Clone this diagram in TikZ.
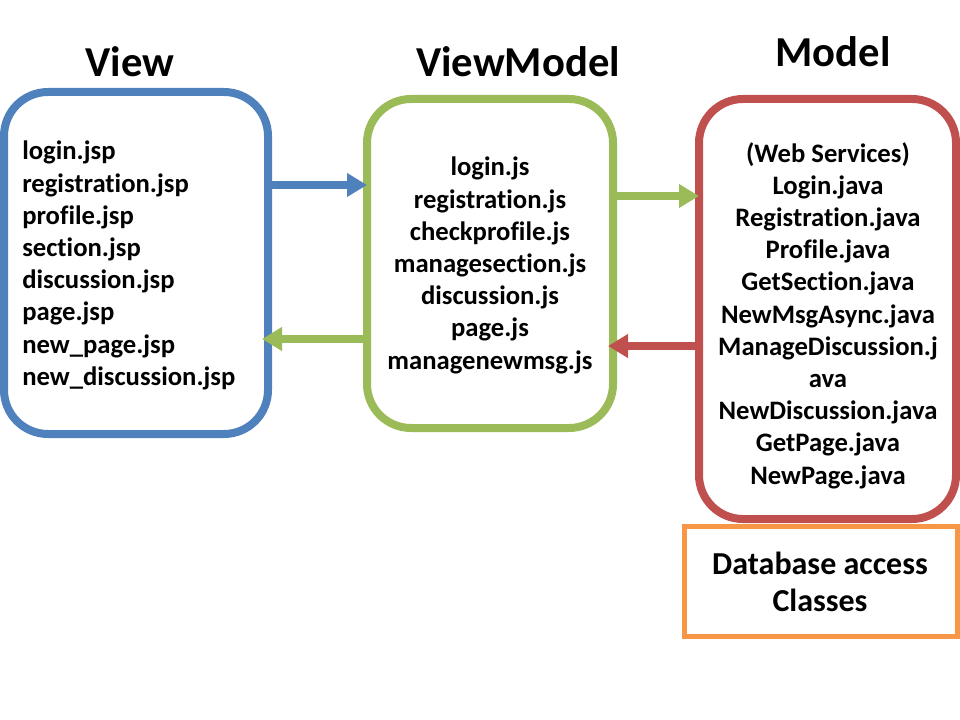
\documentclass[tikz,border=0pt]{standalone}
\usepackage{fontspec}
\setmainfont{Carlito}[Ligatures=NoCommon]
\usetikzlibrary{arrows.meta}
\definecolor{cblue}{HTML}{4F81BD}
\definecolor{cgreen}{HTML}{9BBB59}
\definecolor{cred}{HTML}{C0504D}
\definecolor{corange}{HTML}{F79646}
\tikzset{
  layerbox/.style={draw, line width=6pt, rounded corners=33pt, inner sep=0pt, outer sep=0pt},
  listtext/.style={inner sep=0pt, font=\bfseries\fontsize{20}{24.15}\selectfont},
  titletext/.style={inner sep=0pt, font=\bfseries\fontsize{32}{38}\selectfont, anchor=base},
  flow/.style={line width=6pt, -{Triangle[width=17pt,length=15pt]}},
}
\begin{document}
\begin{tikzpicture}[x=0.75pt,y=-0.75pt]
\useasboundingbox (0,0) rectangle (960,720);
% titles
\node[titletext] (tview) at (130,77) {View};
\node[titletext] (tvm) at (518,77) {ViewModel};
\node[titletext] (tmodel) at (833,67) {Model};
% boxes
\node[layerbox, draw=cblue, minimum width=198pt, minimum height=256.5pt] (view) at (136,263) {};
\node[layerbox, draw=cgreen, minimum width=184.5pt, minimum height=246.75pt] (vm) at (490,263.5) {};
\node[layerbox, draw=cred, minimum width=192.75pt, minimum height=315pt] (model) at (827.5,309) {};
\node[draw=corange, line width=3.75pt, inner sep=0pt, outer sep=0pt, minimum width=204.75pt, minimum height=82.5pt] (db) at (820.5,581) {};
% texts
\node[listtext, anchor=north west, align=left] (viewlist) at (22,141) {login.jsp\\registration.jsp\\profile.jsp\\section.jsp\\discussion.jsp\\page.jsp\\new\_page.jsp\\new\_discussion.jsp};
\node[listtext, anchor=north, align=center] (vmlist) at (490,157) {login.js\\registration.js\\checkprofile.js\\managesection.js\\discussion.js\\page.js\\managenewmsg.js};
\node[listtext, anchor=north, align=center] (modellist) at (828,142) {(Web Services)\\Login.java\\Registration.java\\Profile.java\\GetSection.java\\NewMsgAsync.java\\ManageDiscussion.j\\ava\\NewDiscussion.java\\GetPage.java\\NewPage.java};
\node[inner sep=0pt, anchor=north, align=center, font=\bfseries\fontsize{24}{27.75}\selectfont] (dbtext) at (820,552) {Database access\\Classes};
% arrows
\coordinate (a1s) at (view.east |- 0,185);
\coordinate (a1e) at (vm.west |- 0,185);
\draw[flow, draw=cblue, fill=cblue] (a1s) -- (a1e);
\coordinate (a2s) at (vm.west |- 0,339);
\coordinate (a2e) at (262,339);
\draw[flow, draw=cgreen, fill=cgreen] (a2s) -- (a2e);
\coordinate (a3s) at (vm.east |- 0,196);
\coordinate (a3e) at (model.west |- 0,196);
\draw[flow, draw=cgreen, fill=cgreen] (a3s) -- (a3e);
\coordinate (a4s) at (model.west |- 0,346);
\coordinate (a4e) at (608,346);
\draw[flow, draw=cred, fill=cred] (a4s) -- (a4e);
\end{tikzpicture}
\end{document}
